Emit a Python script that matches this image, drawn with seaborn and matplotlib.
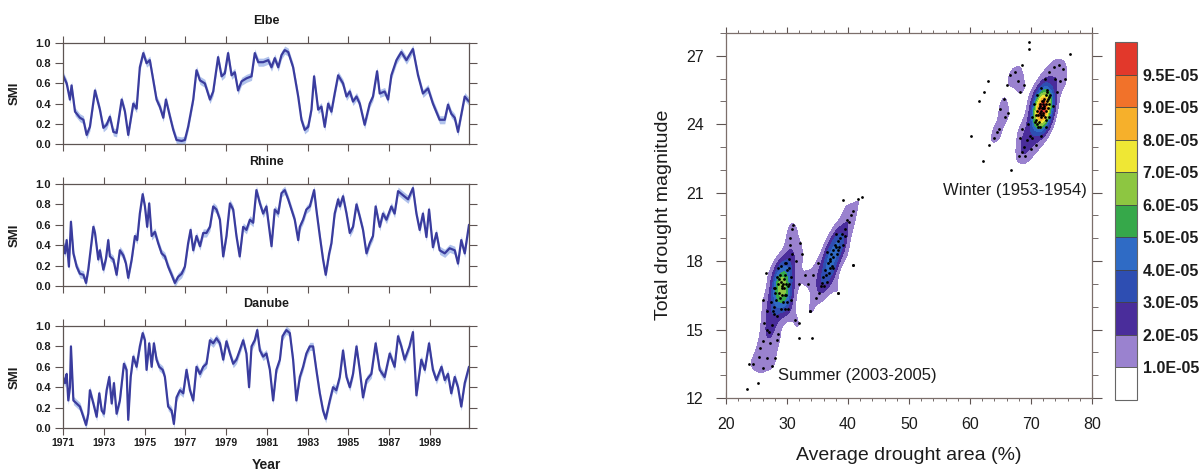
import numpy as np
import pandas as pd
import matplotlib
matplotlib.use("Agg")
import matplotlib.pyplot as plt
import seaborn as sns
from matplotlib.ticker import MultipleLocator

# ---------------- data: SMI time series (decimal year, SMI) ----------------
elbe_t = [1971.00,1971.18,1971.34,1971.42,1971.59,1971.83,1972.00,1972.16,1972.32,1972.57,
          1972.81,1972.98,1973.14,1973.30,1973.47,1973.63,1973.88,1974.04,1974.20,1974.45,
          1974.61,1974.77,1974.94,1975.10,1975.26,1975.43,1975.59,1975.75,1975.92,1976.05,
          1976.25,1976.41,1976.57,1976.82,1976.98,1977.14,1977.39,1977.55,1977.72,1977.96,
          1978.21,1978.37,1978.61,1978.78,1978.94,1979.10,1979.27,1979.43,1979.59,1979.76,
          1980.00,1980.25,1980.41,1980.58,1980.82,1981.07,1981.23,1981.39,1981.56,1981.72,
          1981.88,1982.05,1982.29,1982.54,1982.70,1982.86,1983.03,1983.19,1983.32,1983.52,
          1983.68,1983.84,1984.01,1984.17,1984.33,1984.50,1984.74,1984.91,1985.07,1985.23,
          1985.40,1985.56,1985.80,1986.05,1986.21,1986.41,
          1986.54,1986.78,1986.95,1987.11,1987.36,1987.60,1987.85,1988.17,1988.42,1988.66,
          1988.91,1989.15,1989.48,1989.73,1989.89,1990.05,1990.22,1990.38,1990.54,1990.71,1990.92]
elbe_smi = [0.68,0.60,0.44,0.58,0.32,0.26,0.24,0.09,0.17,0.53,
            0.34,0.16,0.19,0.27,0.12,0.11,0.44,0.32,0.09,0.40,
            0.35,0.76,0.90,0.80,0.83,0.63,0.44,0.37,0.26,0.44,
            0.27,0.14,0.04,0.03,0.04,0.17,0.44,0.73,0.63,0.60,
            0.44,0.52,0.86,0.67,0.70,0.90,0.68,0.71,0.53,0.62,
            0.65,0.67,0.90,0.81,0.81,0.83,0.76,0.85,0.76,0.88,
            0.93,0.91,0.76,0.47,0.24,0.14,0.17,0.34,0.67,0.34,
            0.37,0.17,0.40,0.32,0.50,0.68,0.60,0.47,0.52,0.42,
            0.47,0.40,0.19,0.40,0.47,0.72,
            0.50,0.52,0.44,0.68,0.83,0.91,0.83,0.94,0.68,0.50,
            0.55,0.40,0.24,0.24,0.39,0.30,0.26,0.12,0.29,0.47,0.42]

rhine_t = [1971.00,1971.10,1971.18,1971.29,1971.39,1971.51,1971.67,1971.83,1972.00,1972.13,
           1972.24,1972.49,1972.57,1972.73,1972.81,1972.98,1973.11,1973.22,1973.30,1973.47,
           1973.63,1973.79,1973.96,1974.09,1974.20,1974.37,1974.53,1974.64,1974.77,1974.91,
           1975.02,1975.13,1975.23,1975.35,1975.51,1975.67,1975.84,1976.00,1976.16,1976.33,
           1976.49,1976.65,1976.82,1976.98,1977.14,1977.26,1977.39,1977.55,1977.72,1977.88,
           1978.04,1978.21,1978.37,1978.53,1978.70,1978.86,1979.02,1979.19,1979.35,1979.51,
           1979.67,1979.84,1980.00,1980.17,1980.33,1980.49,1980.66,1980.82,1980.98,1981.23,
           1981.39,1981.56,1981.72,1981.88,1982.05,1982.21,1982.37,1982.54,1982.62,1982.78,
           1982.94,1983.11,1983.32,1983.43,1983.60,1983.76,1983.89,1984.06,1984.17,1984.33,
           1984.50,1984.58,1984.74,1984.91,1985.07,1985.23,1985.40,1985.56,1985.72,1985.89,
           1986.05,1986.21,1986.34,
           1986.54,1986.70,1986.87,1987.11,1987.27,1987.44,1987.68,1987.93,1988.17,1988.34,
           1988.50,1988.66,1988.83,1988.96,1989.15,1989.32,1989.48,1989.73,1989.97,1990.22,
           1990.38,1990.54,1990.71,1990.92]
rhine_smi = [0.42,0.32,0.45,0.19,0.63,0.32,0.19,0.12,0.11,0.03,
             0.16,0.58,0.52,0.26,0.35,0.16,0.27,0.45,0.29,0.26,
             0.11,0.35,0.30,0.22,0.08,0.26,0.49,0.45,0.71,0.90,
             0.78,0.58,0.81,0.49,0.53,0.42,0.32,0.29,0.19,0.11,
             0.03,0.09,0.12,0.19,0.42,0.55,0.35,0.49,0.39,0.52,
             0.52,0.58,0.78,0.75,0.65,0.29,0.49,0.81,0.75,0.49,
             0.29,0.58,0.55,0.65,0.62,0.94,0.81,0.71,0.78,0.39,
             0.75,0.71,0.91,0.94,0.85,0.75,0.65,0.45,0.58,0.65,
             0.75,0.78,0.94,0.75,0.49,0.26,0.11,0.32,0.42,0.71,
             0.85,0.78,0.88,0.71,0.52,0.58,0.80,0.68,0.55,0.32,
             0.42,0.49,0.78,
             0.58,0.71,0.65,0.78,0.71,0.93,0.89,0.85,0.96,0.71,
             0.55,0.71,0.48,0.75,0.38,0.52,0.35,0.32,0.37,0.35,
             0.22,0.45,0.32,0.60]

danube_t = [1971.00,1971.10,1971.18,1971.26,1971.34,1971.39,1971.51,1971.67,1971.83,1972.00,
            1972.13,1972.24,1972.32,1972.49,1972.65,1972.78,1972.90,1973.01,1973.14,1973.27,
            1973.39,1973.50,1973.63,1973.79,1973.99,1974.12,1974.20,1974.32,1974.45,1974.61,
            1974.77,1974.91,1975.02,1975.10,1975.23,1975.35,1975.46,1975.59,1975.72,1975.89,
            1976.00,1976.16,1976.33,1976.44,1976.57,1976.74,1976.90,1977.06,1977.23,1977.39,
            1977.55,1977.72,1977.88,1978.04,1978.21,1978.37,1978.53,1978.70,1978.86,1979.02,
            1979.19,1979.35,1979.51,1979.67,1979.84,1980.00,1980.13,1980.25,1980.41,1980.53,
            1980.66,1980.82,1980.98,1981.15,1981.31,1981.47,1981.64,1981.77,1981.96,1982.13,
            1982.29,1982.45,1982.62,1982.78,1982.94,1983.11,1983.27,1983.43,1983.60,1983.76,
            1983.89,1984.09,1984.25,1984.41,1984.58,1984.74,1984.91,1985.07,1985.23,1985.40,
            1985.56,1985.72,1985.89,1986.13,1986.34,
            1986.54,1986.78,1987.03,1987.27,1987.44,1987.60,1987.76,1988.00,1988.17,1988.34,
            1988.58,1988.75,1988.96,1989.15,1989.32,1989.57,1989.73,1989.89,1990.05,1990.22,
            1990.38,1990.54,1990.71,1990.92]
danube_smi = [0.50,0.44,0.53,0.27,0.40,0.80,0.27,0.24,0.21,0.11,
              0.03,0.14,0.37,0.24,0.11,0.34,0.17,0.14,0.37,0.50,
              0.24,0.44,0.14,0.27,0.63,0.57,0.08,0.50,0.70,0.60,
              0.80,0.93,0.86,0.57,0.83,0.60,0.83,0.67,0.60,0.57,
              0.50,0.21,0.17,0.04,0.30,0.37,0.34,0.57,0.37,0.27,
              0.60,0.53,0.60,0.63,0.86,0.83,0.88,0.83,0.67,0.85,
              0.73,0.63,0.67,0.76,0.86,0.73,0.40,0.80,0.86,0.96,
              0.76,0.70,0.73,0.57,0.27,0.57,0.67,0.90,0.96,0.93,
              0.67,0.27,0.50,0.60,0.73,0.80,0.80,0.57,0.34,0.17,
              0.09,0.27,0.40,0.37,0.50,0.76,0.50,0.40,0.53,0.80,
              0.57,0.30,0.47,0.53,0.83,
              0.57,0.50,0.73,0.60,0.90,0.80,0.67,0.80,0.94,0.32,
              0.67,0.57,0.83,0.57,0.47,0.60,0.47,0.53,0.34,0.50,
              0.40,0.21,0.44,0.60]
smi_spread = 0.04   # half-width of the ensemble band

rivers = ["Elbe", "Rhine", "Danube"]
year_ticks = [1971, 1973, 1975, 1977, 1979, 1981, 1983, 1985, 1987, 1989]
smi_ticks = [0.0, 0.2, 0.4, 0.6, 0.8, 1.0]

# ---------------- data: drought events (area %, total magnitude) ----------------
area = [
    # summer cluster 1 core
    28.25,28.7,29.15,29.45,28.85,29.75,27.95,30.05,29.3,28.55,30.2,28.1,29.0,30.65,27.65,29.6,30.35,28.4,
    29.9,29.15,28.85,29.45,28.7,29.75,
    28.0,30.4,28.3,30.0,29.0,29.7,28.6,30.3,29.2,29.0,
    # summer cluster 1 outer
    27.8,26.7,26.3,26.1,28.3,28.5,27.2,25.6,26.1,26.7,27.5,28.0,24.5,25.4,27.0,27.5,30.9,31.0,32.1,30.5,
    30.9,29.9,29.3,30.1,29.9,31.3,31.9,30.5,31.5,27.4,27.9,30.6,26.8,
    26.5,32.5,26.0,32.0,33.0,33.5,
    # summer cluster 2
    35.7,36.4,37.0,37.5,38.7,39.5,40.1,40.9,37.3,35.9,34.3,36.8,37.9,38.2,36.1,35.3,39.0,38.0,36.6,37.6,
    39.2,39.2,41.7,42.3,40.9,38.4,33.8,35.0,34.8,
    36.2,37.2,38.4,39.8,36.9,38.1,40.5,35.5,37.0,38.5,36.5,39.5,37.6,38.3,37.0,
    # winter cluster A
    64.9,65.5,66.6,67.4,67.9,68.2,65.7,68.5,68.8,64.4,64.0,66.3,66.0,
    # winter cluster B core
    70.65,70.9,71.15,71.4,71.65,71.9,72.15,72.4,72.65,72.9,73.15,71.03,71.4,71.78,72.15,72.53,71.28,71.65,
    72.03,72.4,72.78,70.78,71.53,72.28,73.03,71.15,72.65,71.9,72.03,71.78,
    71.0,71.6,72.2,72.8,71.3,72.0,72.6,71.5,72.4,
    # winter cluster B outer
    68.5,68.9,69.3,69.8,70.2,69.0,68.2,68.6,69.5,70.1,70.5,71.0,71.6,72.3,73.0,73.8,74.6,75.2,74.8,74.2,
    73.6,73.0,72.4,71.7,70.9,75.5,74.0,70.0,68.0,
    # scattered events
    69.6,69.6,76.4,63.0,62.3,61.5,60.1,63.1,62.1,66.7,64.8,
    23.4,25.3,23.7,31.9,34.1,33.8,38.4,40.9,
]
magnitude = [
    16.3,16.6,16.9,17.2,17.4,16.5,16.0,17.6,16.2,17.0,16.9,16.8,17.8,17.3,15.8,15.9,18.1,15.6,
    17.0,16.5,16.4,16.8,17.2,17.4,
    16.6,17.0,17.3,16.2,15.9,17.9,17.7,17.7,16.8,17.1,
    15.7,15.0,15.3,14.5,14.55,14.8,14.4,14.2,13.3,13.75,13.4,13.75,13.5,13.8,14.9,15.2,19.4,19.6,18.8,18.7,
    18.3,17.9,17.0,15.9,16.5,15.4,15.3,19.0,18.0,16.2,16.8,16.3,15.8,
    17.5,18.3,16.3,17.0,17.4,17.0,
    17.05,17.4,18.1,18.5,19.0,19.4,19.7,20.2,17.8,17.3,17.4,17.9,18.7,18.3,16.9,16.6,19.2,19.2,18.4,17.7,
    18.7,20.7,20.72,20.8,17.85,16.6,15.8,17.9,16.4,
    17.6,18.3,18.9,19.8,17.5,18.6,20.0,16.9,17.7,18.6,17.1,19.1,18.2,18.5,18.0,
    24.69,25.1,26.15,26.3,25.9,25.4,24.3,26.6,25.7,23.66,23.4,24.5,25.7,
    24.1,24.2,24.4,24.5,24.6,24.7,24.8,24.9,25.0,25.2,25.3,24.6,24.8,25.0,25.1,25.3,24.1,24.3,
    24.4,24.6,24.7,24.4,24.9,24.3,24.9,23.9,25.5,24.5,24.9,24.7,
    24.0,24.4,24.7,25.1,24.7,25.0,25.4,23.9,24.2,
    22.8,23.0,23.3,23.5,23.4,22.6,23.4,23.8,24.0,24.3,24.9,25.3,25.6,26.0,26.3,26.5,26.6,26.4,25.9,25.4,
    24.8,24.3,23.9,23.5,23.1,26.0,26.0,22.9,22.6,
    27.6,27.3,27.1,25.9,25.4,25.0,23.5,23.1,22.4,22.0,23.8,
    12.38,12.67,13.5,14.63,14.63,15.8,16.6,17.85,
]
density_levels = [0.0, 1.0e-5, 2.0e-5, 3.0e-5, 4.0e-5, 5.0e-5, 6.0e-5, 7.0e-5, 8.0e-5, 9.0e-5, 9.5e-5, 1.0]
density_colors = ["#ffffff", "#9a82cf", "#4a2d9b", "#2e4eb2", "#2f6bc5", "#36a84a",
                  "#8dc641", "#efe734", "#f6b02b", "#f1722a", "#e2382b"]

# ---------------- styling ----------------
sns.set_theme(style="white")
plt.rcParams["font.family"] = ["Liberation Sans", "DejaVu Sans"]
W, H = 1204, 474
fig = plt.figure(figsize=(W / 100, H / 100), dpi=100)

def rect(l, t, r, b):
    return [l / W, 1 - b / H, (r - l) / W, (b - t) / H]

spine_c = "#5e5452"
line_c = "#3a3c9e"
band_c = "#7e9be0"
txt_c = "#1c1c1c"

series = [(elbe_t, elbe_smi), (rhine_t, rhine_smi), (danube_t, danube_smi)]
tops = [43, 184, 326]
bots = [144, 286, 428]
for i, name in enumerate(rivers):
    t = np.array(series[i][0]); v = np.array(series[i][1])
    ax = fig.add_axes(rect(63, tops[i], 469, bots[i]))
    ax.fill_between(t, v - smi_spread, v + smi_spread, color=band_c, alpha=0.6, lw=0, zorder=1)
    df = pd.DataFrame({"year": t, "smi": v})
    sns.lineplot(data=df, x="year", y="smi", ax=ax, color=line_c, lw=1.6, zorder=2,
                 estimator=None, sort=False)
    ax.set_xlim(1971, 1990.92)
    ax.set_ylim(0, 1)
    ax.set_xlabel(""); ax.set_ylabel("")
    ax.set_xticks(year_ticks)
    ax.set_yticks(smi_ticks)
    ax.set_yticklabels([f"{s:.1f}" for s in smi_ticks], fontsize=8, fontweight="bold", color=txt_c)
    if i == 2:
        ax.set_xticklabels([str(y) for y in year_ticks], fontsize=7.5, fontweight="bold", color=txt_c)
    else:
        ax.set_xticklabels([])
    ax.tick_params(axis="x", which="major", direction="out", length=5, width=0.8,
                   top=True, bottom=True, pad=2, color=spine_c)
    ax.tick_params(axis="y", which="major", direction="out", length=6, width=0.8,
                   left=True, right=True, pad=2.5, color=spine_c)
    for s in ax.spines.values():
        s.set_color(spine_c); s.set_linewidth(0.9)
    fig.text(266 / W, 1 - (tops[i] - 22) / H, name, ha="center", va="center",
             fontsize=9, fontweight="bold", color=txt_c)
    fig.text(15 / W, 1 - (tops[i] + bots[i]) / 2 / H, "SMI", ha="center", va="center",
             rotation=90, fontsize=9.5, fontweight="bold", color=txt_c)
fig.text(266 / W, 1 - 465 / H, "Year", ha="center", va="center", fontsize=10,
         fontweight="bold", color=txt_c)

# ---------------- right: KDE of drought events ----------------
ax2 = fig.add_axes(rect(726, 33, 1092, 398))
step_a, step_m = 0.045, 0.05
bw_a, bw_m = 0.85, 0.45
ga = np.arange(20, 80 + step_a / 2, step_a)
gm = np.arange(12, 28 + step_m / 2, step_m)
AA, MM = np.meshgrid(ga, gm)
pdf = np.zeros_like(AA)
for a, m in zip(area, magnitude):
    pdf += np.exp(-0.5 * (((AA - a) / bw_a) ** 2 + ((MM - m) / bw_m) ** 2))
pdf /= len(area) * 2 * np.pi * bw_a * bw_m
prob = pdf * step_a * step_m      # probability per grid cell
cs = ax2.contourf(ga, gm, prob, levels=density_levels, colors=density_colors)
sns.scatterplot(x=area, y=magnitude, ax=ax2, color="black", s=4, linewidth=0, zorder=3)

ax2.set_xlim(20, 80)
ax2.set_ylim(12, 28)
ax2.set_xlabel(""); ax2.set_ylabel("")
ax2.set_xticks(range(20, 81, 10))
ax2.set_yticks(range(12, 28, 3))
ax2.xaxis.set_minor_locator(MultipleLocator(2))
ax2.yaxis.set_minor_locator(MultipleLocator(1))
ax2.tick_params(axis="x", which="major", direction="inout", length=9, width=0.8, top=True,
                bottom=True, labelsize=11.5, pad=9, color=spine_c, labelcolor=txt_c)
ax2.tick_params(axis="x", which="minor", direction="inout", length=5, width=0.6, top=True,
                bottom=True, color=spine_c)
ax2.tick_params(axis="y", which="major", direction="out", length=7, width=0.8, left=True,
                right=True, labelsize=11.5, pad=9, color=spine_c, labelcolor=txt_c)
ax2.tick_params(axis="y", which="minor", direction="out", length=4, width=0.6, left=True,
                right=True, color=spine_c)
for s in ax2.spines.values():
    s.set_color("#7c6f6b"); s.set_linewidth(0.9)
ax2.text(28.5, 13.0, "Summer (2003-2005)", fontsize=12, ha="left", va="center", color=txt_c)
ax2.text(55.6, 21.1, "Winter (1953-1954)", fontsize=12, ha="left", va="center", color=txt_c)
fig.text(664 / W, 1 - 215 / H, "Total drought magnitude", rotation=90, ha="center",
         va="center", fontsize=14, color=txt_c)
fig.text(909 / W, 1 - 455 / H, "Average drought area (%)", ha="center", va="center",
         fontsize=14, color=txt_c)

cax = fig.add_axes(rect(1115, 42, 1137, 400))
cb = fig.colorbar(cs, cax=cax, ticks=density_levels[1:-1], drawedges=True)
cb.ax.set_yticklabels(["%.1E" % l for l in density_levels[1:-1]], fontsize=11.5,
                      fontweight="bold", color=txt_c)
cb.ax.tick_params(length=0, pad=4)
cb.outline.set_edgecolor("#666666"); cb.outline.set_linewidth(0.8)
cb.dividers.set_color("#444444"); cb.dividers.set_linewidth(0.6)

fig.savefig("out.png", dpi=100)
